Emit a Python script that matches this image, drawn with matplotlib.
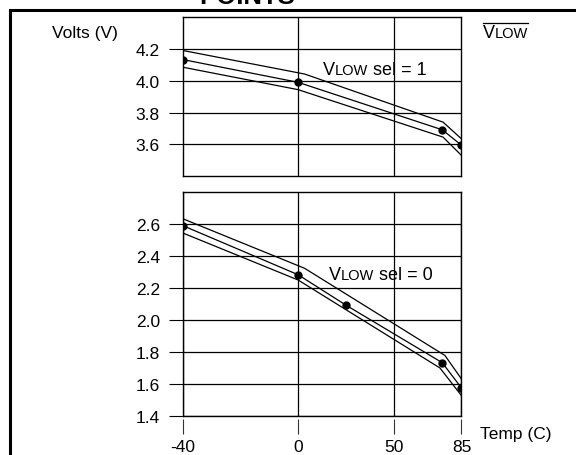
import numpy as np
import matplotlib
matplotlib.use("Agg")
import matplotlib.pyplot as plt
from matplotlib.offsetbox import TextArea, HPacker, AnnotationBbox
from matplotlib.lines import Line2D
from matplotlib.patches import Rectangle

plt.rcParams['font.family'] = ['Liberation Sans', 'DejaVu Sans']

# temperature axis (C)
TEMP_TICKS = [-40, 0, 50, 85]

# VLOW sel = 1 : typical trip points and min/max band
SEL1_T = [-40, 0, 75, 85]
SEL1_V = [4.133, 3.99, 3.692, 3.595]
SEL1_HI_T = [-40, 3.4, 75.4, 85]
SEL1_HI_V = [4.19, 4.042, 3.74, 3.635]
SEL1_LO_T = [-40, 0, 75.4, 85]
SEL1_LO_V = [4.085, 3.944, 3.646, 3.531]
SEL1_TICKS = [3.6, 3.8, 4.0, 4.2]

# VLOW sel = 0
SEL0_T = [-40, 0, 25, 75, 85]
SEL0_V = [2.592, 2.285, 2.094, 1.735, 1.577]
SEL0_HI_T = [-40, 3.4, 76.4, 85]
SEL0_HI_V = [2.635, 2.325, 1.78, 1.633]
SEL0_LO_T = [-40, 0, 73.8, 85]
SEL0_LO_V = [2.546, 2.252, 1.702, 1.529]
SEL0_TICKS = [1.4, 1.6, 1.8, 2.0, 2.2, 2.4, 2.6]

# the -40..0 stretch of the x axis is drawn wider than the rest
KNOTS_T = [-40, 0, 85]
KNOTS_P = [-60, 0, 85]


def fwd(t):
    return np.interp(t, KNOTS_T, KNOTS_P)


def inv(p):
    return np.interp(p, KNOTS_P, KNOTS_T)


def vlow_label(ax, x, y, tail, coords='data'):
    big = dict(size=13, color='black')
    small = dict(size=10.5, color='black')
    parts = [TextArea('V', textprops=big), TextArea('LOW', textprops=small)]
    if tail:
        parts.append(TextArea(tail, textprops=big))
    pack = HPacker(children=parts, align='baseline', pad=0, sep=0)
    ab = AnnotationBbox(pack, (x, y), xycoords=coords, xybox=(0, -2.8),
                        boxcoords='offset points', box_alignment=(0, 0),
                        frameon=False, pad=0, annotation_clip=False)
    ax.add_artist(ab)
    return ab


def panel(ax, mid, hi, lo, ylim, yticks):
    ax.set_xscale('function', functions=(fwd, inv))
    ax.set_xlim(-40, 85)
    ax.set_ylim(*ylim)
    ax.plot(hi[0], hi[1], color='black', lw=0.9)
    ax.plot(lo[0], lo[1], color='black', lw=0.9)
    ax.plot(mid[0], mid[1], color='black', lw=0.9, marker='o', ms=5)
    ax.set_yticks(yticks)
    ax.yaxis.set_major_formatter('{x:.1f}')
    ax.grid(True, color='black', lw=0.9)
    ax.set_axisbelow(True)
    ax.tick_params(axis='y', direction='out', length=10.4, width=0.8,
                   pad=6, labelsize=12.5)
    for s in ax.spines.values():
        s.set_linewidth(1.0)


fig = plt.figure(figsize=(5.76, 4.56), dpi=100)

# outer frame, cut by the image edges
fig.add_artist(Rectangle((9.5 / 576, -0.2), 1.2, 1 - 11 / 456 + 0.2,
                         transform=fig.transFigure, fill=False,
                         edgecolor='black', lw=2.2, clip_on=False))
fig.text(247 / 576, 1 - 3.5 / 456, 'POINTS', ha='center', va='baseline',
         fontsize=18.5, fontweight='bold')

ax1 = fig.add_axes([182.7 / 576, (456 - 177.3) / 456, 278.8 / 576, 159.3 / 456])
ax2 = fig.add_axes([182.7 / 576, (456 - 417.3) / 456, 278.8 / 576, 224 / 456])

panel(ax1, (SEL1_T, SEL1_V), (SEL1_HI_T, SEL1_HI_V), (SEL1_LO_T, SEL1_LO_V),
      (3.4, 4.4), SEL1_TICKS)
ax1.set_xticks([0, 50])
ax1.tick_params(axis='x', length=0, labelbottom=False)

panel(ax2, (SEL0_T, SEL0_V), (SEL0_HI_T, SEL0_HI_V), (SEL0_LO_T, SEL0_LO_V),
      (1.4, 2.8), SEL0_TICKS)
ax2.set_xticks(TEMP_TICKS)
ax2.set_xticklabels([str(t) for t in TEMP_TICKS])
ax2.spines['bottom'].set_position(('outward', 2.2))
ax2.spines['bottom'].set_visible(False)
ax2.axhline(1.4, color='black', lw=1.0, clip_on=False)
ax2.tick_params(axis='x', direction='out', length=10.8, width=0.8,
                color='#333333', pad=3.5, labelsize=12.5)

vlow_label(ax1, 12.9, 4.0425, ' sel = 1')
vlow_label(ax2, 15.8, 2.26, ' sel = 0')

fig.text(52 / 576, 1 - 38 / 456, 'Volts (V)', va='baseline', fontsize=12.5)
fig.text(480 / 576, 1 - 439 / 456, 'Temp (C)', va='baseline', fontsize=12.5)
over = vlow_label(ax1, 483 / 576, 1 - 38.3 / 456, '', coords='figure fraction')

# overline across the top-right VLOW label
fig.canvas.draw()
bb = over.get_window_extent(fig.canvas.get_renderer())
fig.add_artist(Line2D([bb.x0, bb.x1], [bb.y1 + 1.5, bb.y1 + 1.5],
                      transform=None, color='black', lw=0.9))

fig.savefig('out.png', dpi=100)
